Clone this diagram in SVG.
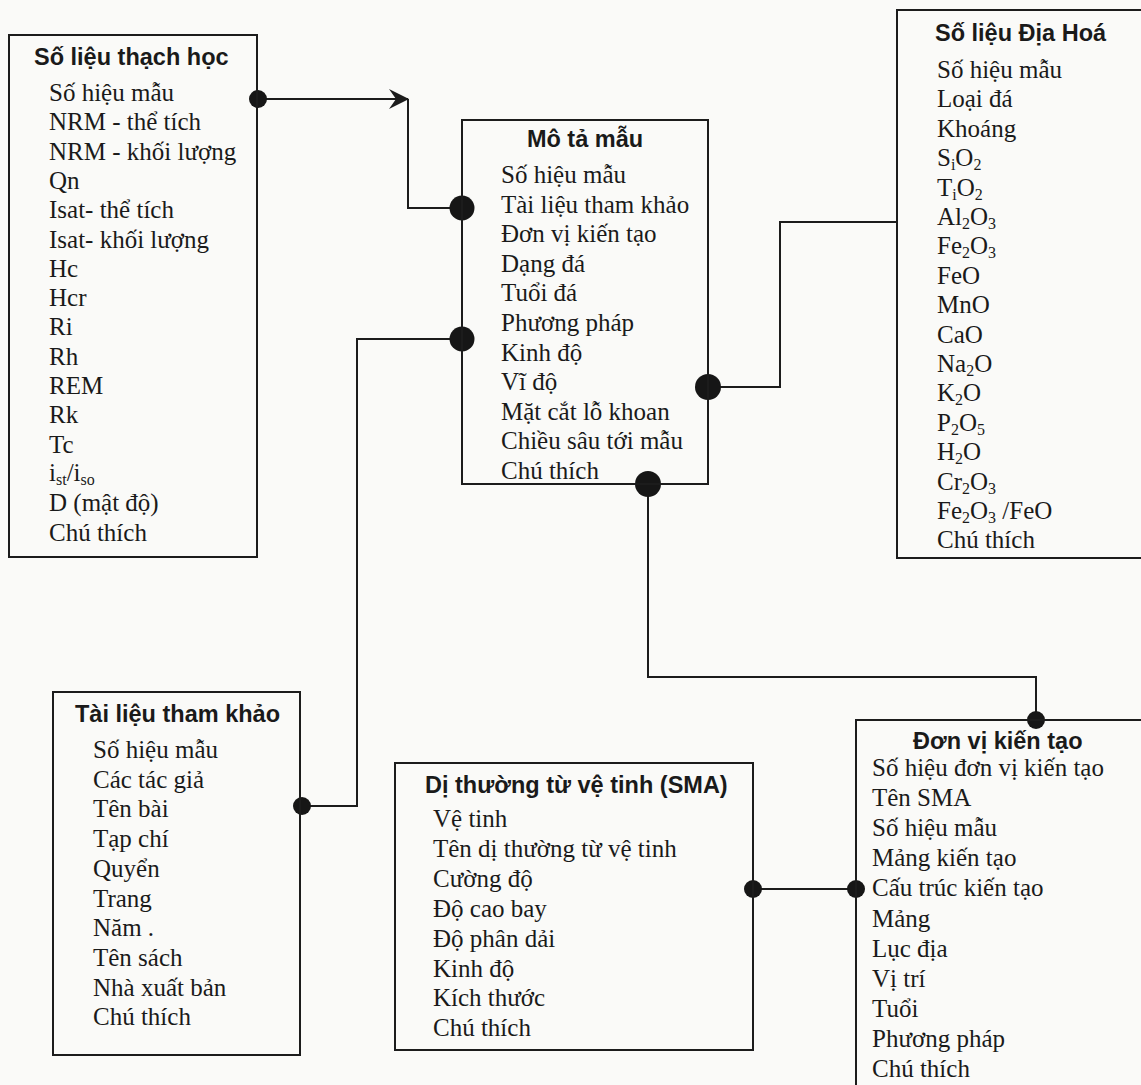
<svg xmlns="http://www.w3.org/2000/svg" width="1141" height="1085" viewBox="0 0 1141 1085">
<style>
.box{fill:none;stroke:#1c1c1c;stroke-width:2}
.con{fill:none;stroke:#1c1c1c;stroke-width:2}
.dot{fill:#161616}
.t{font-family:"Liberation Sans",Arial,sans-serif;font-weight:bold;font-size:23.5px;fill:#1a1a1a}
.i{font-family:"Liberation Serif","Times New Roman",serif;font-size:25px;fill:#1a1a1a}
.s{font-size:16px}
</style>
<defs>
<marker id="arr" viewBox="0 0 20 20" refX="19" refY="10" markerWidth="20" markerHeight="20" markerUnits="userSpaceOnUse" orient="auto">
<path d="M0,0 L20,10 L0,20 L7,10 Z" fill="#1c1c1c"/>
</marker>
</defs>
<rect x="0" y="0" width="1141" height="1085" fill="#fafaf8"/>

<g id="connectors">
<path class="con" d="M258,99 H408" marker-end="url(#arr)"/>
<path class="con" d="M408,99 V208 H462"/>
<path class="con" d="M302,806 H357 V339 H462"/>
<path class="con" d="M708,387 H780 V222 H897"/>
<path class="con" d="M648,484 V677 H1036 V720"/>
<path class="con" d="M753,889 H856"/>
<circle class="dot" cx="258" cy="99" r="9"/>
<circle class="dot" cx="462" cy="208" r="12.5"/>
<circle class="dot" cx="462" cy="339" r="12.5"/>
<circle class="dot" cx="708" cy="387" r="13"/>
<circle class="dot" cx="648" cy="484" r="13"/>
<circle class="dot" cx="302" cy="806" r="9"/>
<circle class="dot" cx="753" cy="889" r="9"/>
<circle class="dot" cx="856" cy="889" r="9"/>
<circle class="dot" cx="1036" cy="720" r="9"/>
</g>

<g id="so-lieu-thach-hoc">
<rect class="box" x="9" y="35" width="248" height="522"/>
<text class="t" x="34" y="65">Số liệu thạch học</text>
<text class="i" x="49" y="101">Số hiệu mẫu</text>
<text class="i" x="49" y="130.3">NRM - thể tích</text>
<text class="i" x="49" y="159.6">NRM - khối lượng</text>
<text class="i" x="49" y="188.9">Qn</text>
<text class="i" x="49" y="218.2">Isat- thể tích</text>
<text class="i" x="49" y="247.5">Isat- khối lượng</text>
<text class="i" x="49" y="276.8">Hc</text>
<text class="i" x="49" y="306.1">Hcr</text>
<text class="i" x="49" y="335.4">Ri</text>
<text class="i" x="49" y="364.7">Rh</text>
<text class="i" x="49" y="394">REM</text>
<text class="i" x="49" y="423.3">Rk</text>
<text class="i" x="49" y="452.6">Tc</text>
<text class="i" x="49" y="480.9">i<tspan class="s" dy="4">st</tspan><tspan dy="-4">/i</tspan><tspan class="s" dy="4">so</tspan></text>
<text class="i" x="49" y="511.2">D (mật độ)</text>
<text class="i" x="49" y="540.5">Chú thích</text>
</g>

<g id="mo-ta-mau">
<rect class="box" x="462" y="120" width="246" height="364"/>
<text class="t" x="585" y="147" text-anchor="middle">Mô tả mẫu</text>
<text class="i" x="501" y="183">Số hiệu mẫu</text>
<text class="i" x="501" y="212.6">Tài liệu tham khảo</text>
<text class="i" x="501" y="242.2">Đơn vị kiến tạo</text>
<text class="i" x="501" y="271.8">Dạng đá</text>
<text class="i" x="501" y="301.4">Tuổi đá</text>
<text class="i" x="501" y="331">Phương pháp</text>
<text class="i" x="501" y="360.6">Kinh độ</text>
<text class="i" x="501" y="390.2">Vĩ độ</text>
<text class="i" x="501" y="419.8">Mặt cắt lỗ khoan</text>
<text class="i" x="501" y="449.4">Chiều sâu tới mẫu</text>
<text class="i" x="501" y="479">Chú thích</text>
</g>

<g id="so-lieu-dia-hoa">
<rect class="box" x="897" y="10" width="260" height="548"/>
<text class="t" x="935" y="41">Số liệu Địa Hoá</text>
<text class="i" x="937" y="78">Số hiệu mẫu</text>
<text class="i" x="937" y="107.4">Loại đá</text>
<text class="i" x="937" y="136.8">Khoáng</text>
<text class="i" x="937" y="166.2">S<tspan class="s" dy="4">i</tspan><tspan dy="-4">O</tspan><tspan class="s" dy="4">2</tspan></text>
<text class="i" x="937" y="195.6">T<tspan class="s" dy="4">i</tspan><tspan dy="-4">O</tspan><tspan class="s" dy="4">2</tspan></text>
<text class="i" x="937" y="225">Al<tspan class="s" dy="4">2</tspan><tspan dy="-4">O</tspan><tspan class="s" dy="4">3</tspan></text>
<text class="i" x="937" y="254.4">Fe<tspan class="s" dy="4">2</tspan><tspan dy="-4">O</tspan><tspan class="s" dy="4">3</tspan></text>
<text class="i" x="937" y="283.8">FeO</text>
<text class="i" x="937" y="313.2">MnO</text>
<text class="i" x="937" y="342.6">CaO</text>
<text class="i" x="937" y="372">Na<tspan class="s" dy="4">2</tspan><tspan dy="-4">O</tspan></text>
<text class="i" x="937" y="401.4">K<tspan class="s" dy="4">2</tspan><tspan dy="-4">O</tspan></text>
<text class="i" x="937" y="430.8">P<tspan class="s" dy="4">2</tspan><tspan dy="-4">O</tspan><tspan class="s" dy="4">5</tspan></text>
<text class="i" x="937" y="460.2">H<tspan class="s" dy="4">2</tspan><tspan dy="-4">O</tspan></text>
<text class="i" x="937" y="489.6">Cr<tspan class="s" dy="4">2</tspan><tspan dy="-4">O</tspan><tspan class="s" dy="4">3</tspan></text>
<text class="i" x="937" y="519">Fe<tspan class="s" dy="4">2</tspan><tspan dy="-4">O</tspan><tspan class="s" dy="4">3</tspan><tspan dy="-4"> /FeO</tspan></text>
<text class="i" x="937" y="548.4">Chú thích</text>
</g>

<g id="tai-lieu-tham-khao">
<rect class="box" x="53" y="692" width="247" height="363"/>
<text class="t" x="75" y="722">Tài liệu tham khảo</text>
<text class="i" x="93" y="758">Số hiệu mẫu</text>
<text class="i" x="93" y="787.7">Các tác giả</text>
<text class="i" x="93" y="817.4">Tên bài</text>
<text class="i" x="93" y="847.1">Tạp chí</text>
<text class="i" x="93" y="876.8">Quyển</text>
<text class="i" x="93" y="906.5">Trang</text>
<text class="i" x="93" y="936.2">Năm .</text>
<text class="i" x="93" y="965.9">Tên sách</text>
<text class="i" x="93" y="995.6">Nhà xuất bản</text>
<text class="i" x="93" y="1025.3">Chú thích</text>
</g>

<g id="di-thuong-tu-ve-tinh">
<rect class="box" x="395" y="763" width="358" height="287"/>
<text class="t" x="425" y="793">Dị thường từ vệ tinh (SMA)</text>
<text class="i" x="433" y="827">Vệ tinh</text>
<text class="i" x="433" y="856.9">Tên dị thường từ vệ tinh</text>
<text class="i" x="433" y="886.8">Cường độ</text>
<text class="i" x="433" y="916.7">Độ cao bay</text>
<text class="i" x="433" y="946.6">Độ phân dải</text>
<text class="i" x="433" y="976.5">Kinh độ</text>
<text class="i" x="433" y="1006.4">Kích thước</text>
<text class="i" x="433" y="1036.3">Chú thích</text>
</g>

<g id="don-vi-kien-tao">
<rect class="box" x="856" y="720" width="300" height="380"/>
<text class="t" x="913" y="749">Đơn vị kiến tạo</text>
<text class="i" x="872" y="776">Số hiệu đơn vị kiến tạo</text>
<text class="i" x="872" y="806.1">Tên SMA</text>
<text class="i" x="872" y="836.2">Số hiệu mẫu</text>
<text class="i" x="872" y="866.3">Mảng kiến tạo</text>
<text class="i" x="872" y="896.4">Cấu trúc kiến tạo</text>
<text class="i" x="872" y="926.5">Mảng</text>
<text class="i" x="872" y="956.6">Lục địa</text>
<text class="i" x="872" y="986.7">Vị trí</text>
<text class="i" x="872" y="1016.8">Tuổi</text>
<text class="i" x="872" y="1046.9">Phương pháp</text>
<text class="i" x="872" y="1077">Chú thích</text>
</g>
</svg>
